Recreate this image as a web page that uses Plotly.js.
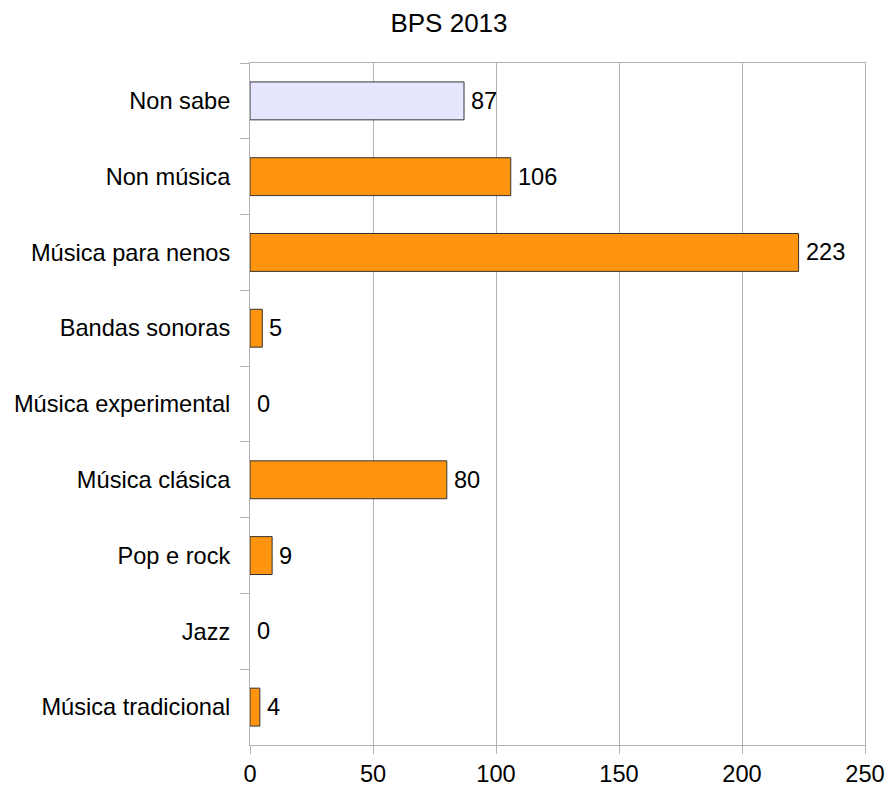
<!DOCTYPE html>
<html>
<head>
<meta charset="utf-8">
<script src="https://cdn.plot.ly/plotly-3.0.1.min.js"></script>
<style>html,body{margin:0;padding:0;background:#fff;}#chart{width:888px;height:787px;}</style>
</head>
<body>
<div id="chart"></div>
<script>
const categories = ["Non sabe", "Non música", "Música para nenos", "Bandas sonoras", "Música experimental", "Música clásica", "Pop e rock", "Jazz", "Música tradicional"];
const values = [87, 106, 223, 5, 0, 80, 9, 0, 4];
const barColors = ["#e6e6ff", "#ff950e", "#ff950e", "#ff950e", "#ff950e", "#ff950e", "#ff950e", "#ff950e", "#ff950e"];
const xTicks = [0, 50, 100, 150, 200, 250];

const FONT = "Liberation Sans, Arial, sans-serif";
const FS = 23.6;

const trace = {
  type: "bar",
  orientation: "h",
  y: categories,
  x: values,
  marker: {
    color: barColors,
    line: {color: "#333333", width: values.map(v => v === 0 ? 0 : 1)}
  },
  hoverinfo: "none"
};

const annotations = values.map((v, i) => ({
  x: v,
  y: categories[i],
  xref: "x",
  yref: "y",
  text: String(v),
  showarrow: false,
  xanchor: "left",
  yanchor: "middle",
  xshift: 5,
  font: {family: FONT, size: FS, color: "#000"}
}));

const layout = {
  width: 888,
  height: 787,
  margin: {l: 249.5, r: 22.5, t: 63.3, b: 41.7},
  paper_bgcolor: "#fff",
  plot_bgcolor: "#fff",
  font: {family: FONT, size: FS, color: "#000"},
  title: {text: "BPS 2013", x: 0.5056, xanchor: "center", y: 0.9705, yanchor: "middle", font: {size: 26, color: "#000"}},
  bargap: 0.5,
  showlegend: false,
  annotations: annotations,
  xaxis: {
    range: [0, 250],
    tickvals: xTicks,
    ticktext: xTicks.map(String),
    showgrid: true,
    gridcolor: "#b3b3b3",
    gridwidth: 1,
    zeroline: false,
    showline: true,
    linecolor: "#b3b3b3",
    linewidth: 1,
    mirror: true,
    ticks: "outside",
    ticklen: 8,
    tickcolor: "#b3b3b3",
    tickfont: {size: FS}
  },
  yaxis: {
    type: "category",
    autorange: "reversed",
    showgrid: false,
    zeroline: false,
    showline: true,
    linecolor: "#b3b3b3",
    linewidth: 1,
    mirror: true,
    ticks: "outside",
    tickson: "boundaries",
    ticklen: 9,
    tickcolor: "#b3b3b3",
    ticklabelstandoff: 14,
    tickfont: {size: FS}
  }
};

Plotly.newPlot("chart", [trace], layout, {staticPlot: true, displayModeBar: false});
</script>
</body>
</html>
